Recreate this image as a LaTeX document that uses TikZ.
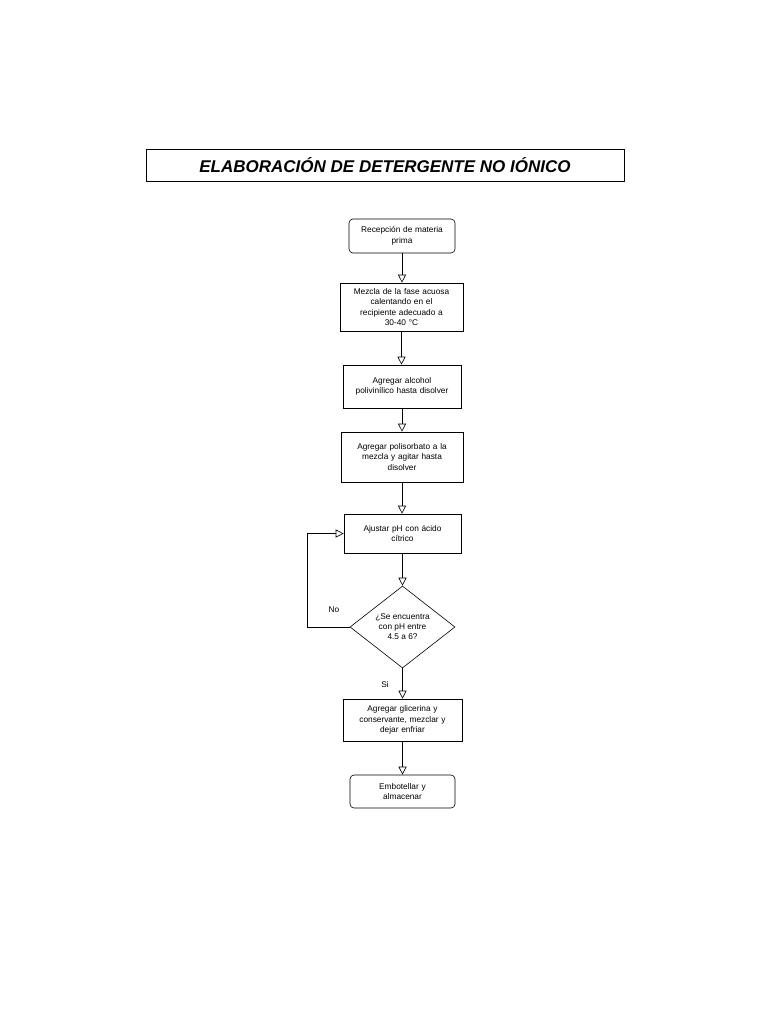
\documentclass[tikz,border=0pt]{standalone}
\usepackage{fontspec}
\setmainfont{Liberation Sans}
\usetikzlibrary{arrows.meta,shapes.geometric}
\begin{document}
\begin{tikzpicture}[x=1pt,y=-1pt,
  box/.style={draw,line width=0.6pt,align=center,font=\fontsize{8.3}{10.5}\selectfont,inner sep=1pt},
  arr/.style={draw,line width=0.6pt,-{Triangle[open,length=8pt,width=8pt]}},
  lbl/.style={font=\fontsize{8.3}{10}\selectfont}]
\useasboundingbox (0,0) rectangle (768,1024);
\node[draw,line width=0.8pt,minimum width=478pt,minimum height=32pt,font=\fontsize{17}{20}\selectfont\bfseries\itshape] (t) at (385,165) {ELABORACIÓN DE DETERGENTE NO IÓNICO};
\node[box,rounded corners=4pt,minimum width=106pt,minimum height=34pt,text width=100pt] (b1) at (402,236) {Recepción de materia\\prima};
\node[box,minimum width=123pt,minimum height=48pt,text width=118pt] (b2) at (401.5,307) {Mezcla de la fase acuosa\\calentando en el\\recipiente adecuado a\\30-40 °C};
\node[box,minimum width=118pt,minimum height=43pt,text width=116pt] (b3) at (402,386.5) {Agregar alcohol\\polivinílico hasta disolver};
\node[box,minimum width=122pt,minimum height=50pt,text width=118pt] (b4) at (402,457) {Agregar polisorbato a la\\mezcla y agitar hasta\\disolver};
\node[box,minimum width=117pt,minimum height=39pt,text width=112pt] (b5) at (402.5,533.5) {Ajustar pH con ácido\\cítrico};
\node[box,diamond,minimum width=105pt,minimum height=82pt,inner sep=0pt] (d) at (402.5,627) {};
\node[lbl,align=center] at (402.5,627) {¿Se encuentra\\con pH entre\\4.5 a 6?};
\node[box,minimum width=119pt,minimum height=42pt,text width=116pt] (b6) at (402.5,720) {Agregar glicerina y\\conservante, mezclar y\\dejar enfriar};
\node[box,rounded corners=4pt,minimum width=105pt,minimum height=33pt,text width=100pt] (b7) at (402.5,791.5) {Embotellar y\\almacenar};
\draw[arr] (b1.south) -- (b1.south |- b2.north);
\draw[arr] (b2.south) -- (b2.south |- b3.north);
\draw[arr] (b3.south) -- (b3.south |- b4.north);
\draw[arr] (b4.south) -- (b4.south |- b5.north);
\draw[arr] (b5.south) -- (d.north);
\draw[arr] (d.south) -- (d.south |- b6.north);
\draw[arr] (b6.south) -- (b6.south |- b7.north);
\coordinate (c1) at (307,627);
\coordinate (c2) at (307,533.5);
\draw[arr] (d.west) -- (c1) -- (c2) -- (b5.west);
\node[lbl] (no) at (334,610) {No};
\node[lbl] (si) at (385,685) {Si};
\end{tikzpicture}
\end{document}
